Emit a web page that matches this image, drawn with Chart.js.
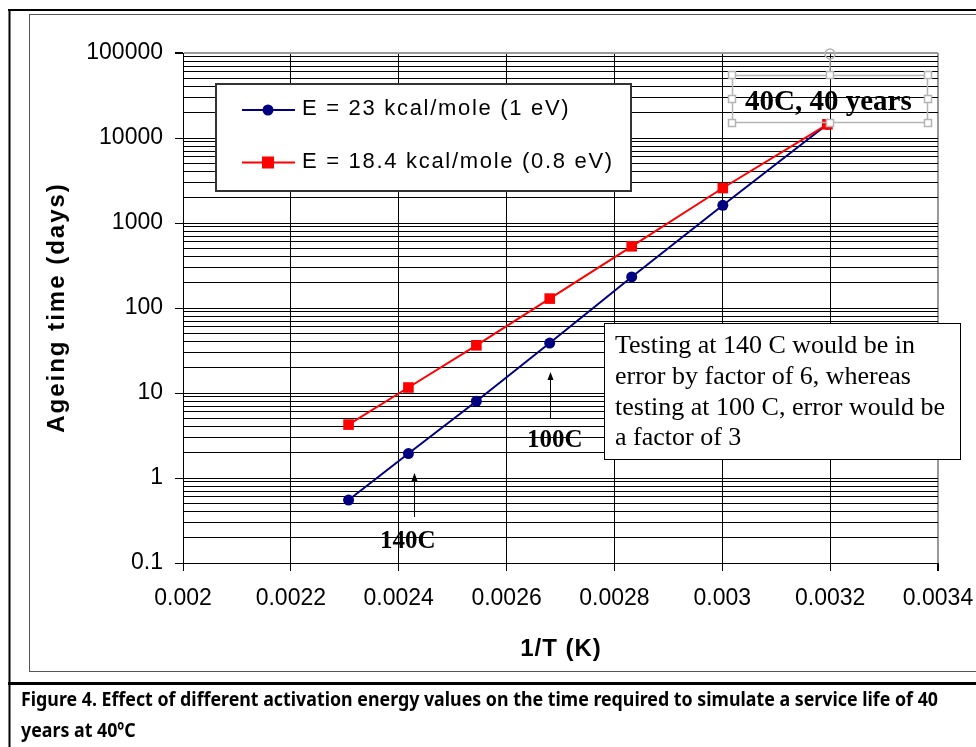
<!DOCTYPE html>
<html>
<head>
<meta charset="utf-8">
<script src="https://cdn.jsdelivr.net/npm/chart.js@4.4.1/dist/chart.umd.min.js"></script>
<style>
  html, body { margin: 0; padding: 0; background: #fff; }
  #wrap { width: 976px; height: 747px; }
</style>
</head>
<body>
<div id="wrap"><canvas id="aging" width="976" height="747"></canvas></div>
<script>
// valeurs (1/T en K^-1, temps en jours)
const invT = [0.002307, 0.002418, 0.002544, 0.00268, 0.002832, 0.003001, 0.003195];
const daysE23 = [0.55, 1.94, 8.0, 38.7, 232, 1615, 14500];
const daysE18 = [4.25, 11.6, 36.4, 129, 532, 2580, 14500];
const seriesLabels = ['E = 23 kcal/mole (1 eV)', 'E = 18.4 kcal/mole (0.8 eV)'];

const xTickValues = [0.002, 0.0022, 0.0024, 0.0026, 0.0028, 0.003, 0.0032, 0.0034];
const xTickLabels = ['0.002', '0.0022', '0.0024', '0.0026', '0.0028', '0.003', '0.0032', '0.0034'];
const yTickValues = [0.1, 1, 10, 100, 1000, 10000, 100000];
const yTickLabels = ['0.1', '1', '10', '100', '1000', '10000', '100000'];

const xTitle = '1/T (K)';
const yTitle = 'Ageing time (days)';
const noteLines = ['Testing at 140 C would be in', 'error by factor of 6, whereas', 'testing at 100 C, error would be', 'a factor of 3'];
const captionLines = [
  'Figure 4. Effect of different activation energy values on the time required to simulate a service life of 40',
  'years at 40ºC'
];

const SANS = '"Liberation Sans", Arial, sans-serif';
const SERIF = '"Liberation Serif", "Times New Roman", serif';

// grille log : 1..9 par décade
const yGrid = [];
yTickValues.forEach((v, i) => {
  if (i === yTickValues.length - 1) { yGrid.push(v); return; }
  for (let k = 1; k <= 9; k++) yGrid.push(+(v * k).toPrecision(6));
});

function majorIndex(v) {
  return yTickValues.findIndex(t => Math.abs(v - t) / t < 1e-6);
}

function arrowUp(c, x, y0, y1) {
  c.strokeStyle = '#000';
  c.lineWidth = 1;
  c.beginPath();
  c.moveTo(x + 0.5, y0);
  c.lineTo(x + 0.5, y1 + 6);
  c.stroke();
  c.fillStyle = '#000';
  c.beginPath();
  c.moveTo(x + 0.5, y1);
  c.lineTo(x - 2.5, y1 + 8);
  c.lineTo(x + 3.5, y1 + 8);
  c.closePath();
  c.fill();
}

const decor = {
  id: 'decor',
  beforeDraw(chart) {
    const c = chart.ctx;
    c.save();
    c.fillStyle = '#fff';
    c.fillRect(0, 0, 976, 747);
    // cadre du graphique
    c.strokeStyle = '#555';
    c.lineWidth = 1;
    c.strokeRect(29.5, 14.5, 980, 657);
    // cadre de la figure
    c.fillStyle = '#000';
    c.fillRect(8, 9, 968, 2);
    c.fillRect(8.5, 9, 2, 738);
    c.fillRect(8, 682, 968, 3);
    c.restore();
  },
  afterDraw(chart) {
    const c = chart.ctx;
    const ds = chart.data.datasets;
    c.save();

    // légende
    c.fillStyle = '#fff';
    c.fillRect(216, 84, 415, 107);
    c.strokeStyle = '#333';
    c.lineWidth = 2;
    c.strokeRect(216, 84, 415, 107);
    const rows = [110, 162.5];
    ds.forEach((d, i) => {
      const y = rows[i];
      c.strokeStyle = d.borderColor;
      c.lineWidth = 2;
      c.beginPath();
      c.moveTo(242, y);
      c.lineTo(295, y);
      c.stroke();
      c.fillStyle = d.borderColor;
      if (d.pointStyle === 'rect') {
        c.fillRect(262, y - 6, 12, 12);
      } else {
        c.beginPath();
        c.arc(268, y, 5.5, 0, Math.PI * 2);
        c.fill();
      }
      c.fillStyle = '#000';
      c.font = '22px ' + SANS;
      c.letterSpacing = '1.7px';
      c.textAlign = 'left';
      c.textBaseline = 'alphabetic';
      c.fillText(d.label, 302, y + 5);
    });
    c.letterSpacing = '0px';

    // titres des axes
    c.fillStyle = '#000';
    c.font = 'bold 24px ' + SANS;
    c.letterSpacing = '1px';
    c.textAlign = 'center';
    c.fillText(xTitle, 561, 656);
    c.save();
    c.translate(64, 307.5);
    c.rotate(-Math.PI / 2);
    c.letterSpacing = '2px';
    c.fillText(yTitle, 0, 0);
    c.restore();
    c.letterSpacing = '0px';

    // annotations
    c.font = 'bold 25px ' + SERIF;
    c.textAlign = 'left';
    c.fillText('140C', 380, 548);
    c.fillText('100C', 527, 447);
    arrowUp(c, 414, 517, 473);
    arrowUp(c, 550, 418, 372);

    c.font = 'bold 29px ' + SERIF;
    c.fillText('40C, 40 years', 745, 110);

    // poignées de sélection (capture d'écran d'origine)
    c.strokeStyle = '#b4b4b4';
    c.lineWidth = 1.5;
    c.strokeRect(732.5, 75.5, 195, 47);
    c.beginPath();
    c.moveTo(830, 59);
    c.lineTo(830, 75);
    c.stroke();
    c.beginPath();
    c.arc(830, 54, 5, 0, Math.PI * 2);
    c.stroke();
    const hs = [[732, 75], [830, 75], [928, 75], [732, 99], [928, 99], [732, 123], [830, 123], [928, 123]];
    hs.forEach(([hx, hy]) => {
      c.fillStyle = '#fff';
      c.fillRect(hx - 3.5, hy - 3.5, 7, 7);
      c.strokeRect(hx - 3.5, hy - 3.5, 7, 7);
    });

    // encadré de texte
    c.fillStyle = '#fff';
    c.fillRect(604, 323, 357, 137);
    c.strokeStyle = '#000';
    c.lineWidth = 1;
    c.strokeRect(604.5, 323.5, 356, 136);
    c.fillStyle = '#000';
    c.font = '26px ' + SERIF;
    noteLines.forEach((t, i) => c.fillText(t, 615, 353 + i * 30.8));

    // légende de la figure
    c.font = 'bold 20px "Noto Sans", "Open Sans", sans-serif';
    const w = c.measureText(captionLines[0]).width;
    const sx = 917 / w;
    captionLines.forEach((t, i) => {
      c.save();
      c.translate(21, 706 + i * 30.5);
      c.scale(sx, 1);
      c.fillText(t, 0, 0);
      c.restore();
    });

    c.restore();
  }
};

const ctx = document.getElementById('aging').getContext('2d');
new Chart(ctx, {
  type: 'line',
  data: {
    datasets: [
      {
        label: seriesLabels[0],
        data: invT.map((x, i) => ({ x: x, y: daysE23[i] })),
        borderColor: '#000080',
        backgroundColor: '#000080',
        borderWidth: 2,
        pointStyle: 'circle',
        pointRadius: 5.5,
        pointBorderWidth: 0,
        fill: false,
        tension: 0,
        order: 1
      },
      {
        label: seriesLabels[1],
        data: invT.map((x, i) => ({ x: x, y: daysE18[i] })),
        borderColor: '#ff0000',
        backgroundColor: '#ff0000',
        borderWidth: 2,
        pointStyle: 'rect',
        pointRadius: 7.5,
        pointBorderWidth: 0,
        fill: false,
        tension: 0,
        order: 0
      }
    ]
  },
  options: {
    responsive: false,
    animation: false,
    events: [],
    layout: { padding: { left: 0, top: 53, right: 38, bottom: 124 } },
    plugins: {
      legend: { display: false },
      tooltip: { enabled: false },
      title: { display: false }
    },
    scales: {
      x: {
        type: 'linear',
        min: 0.002,
        max: 0.0034,
        afterBuildTicks: (s) => { s.ticks = xTickValues.map(v => ({ value: v })); },
        afterFit: (s) => { s.height = 60; s.paddingLeft = 0; s.paddingRight = 0; },
        border: { display: true, color: '#000', width: 1 },
        grid: {
          color: (c) => (c.index === xTickValues.length - 1 ? '#9a9a9a' : '#000'),
          lineWidth: (c) => (c.index === xTickValues.length - 1 ? 2 : 1),
          tickColor: '#000',
          tickLength: 8,
          drawTicks: true
        },
        ticks: {
          autoSkip: false,
          maxRotation: 0,
          padding: 14,
          color: '#000',
          font: { family: SANS, size: 23 },
          callback: (v) => {
            const i = xTickValues.findIndex(t => Math.abs(v - t) < 1e-9);
            return i >= 0 ? xTickLabels[i] : '';
          }
        }
      },
      y: {
        type: 'logarithmic',
        min: 0.1,
        max: 100000,
        afterBuildTicks: (s) => { s.ticks = yGrid.map(v => ({ value: v })); },
        afterFit: (s) => { s.width = 183; s.paddingTop = 0; s.paddingBottom = 0; },
        border: { display: true, color: '#000', width: 1 },
        grid: {
          color: (c) => (c.tick && c.tick.value === 100000 ? '#9a9a9a' : '#000'),
          lineWidth: (c) => (c.tick && c.tick.value === 100000 ? 2 : 1),
          tickColor: (c) => (c.tick && majorIndex(c.tick.value) >= 0 ? '#000' : 'rgba(0,0,0,0)'),
          tickLength: 8
        },
        ticks: {
          autoSkip: false,
          padding: 12,
          color: '#000',
          font: { family: SANS, size: 23 },
          callback: (v) => {
            const i = majorIndex(v);
            return i >= 0 ? yTickLabels[i] : '';
          }
        }
      }
    }
  },
  plugins: [decor]
});
</script>
</body>
</html>
